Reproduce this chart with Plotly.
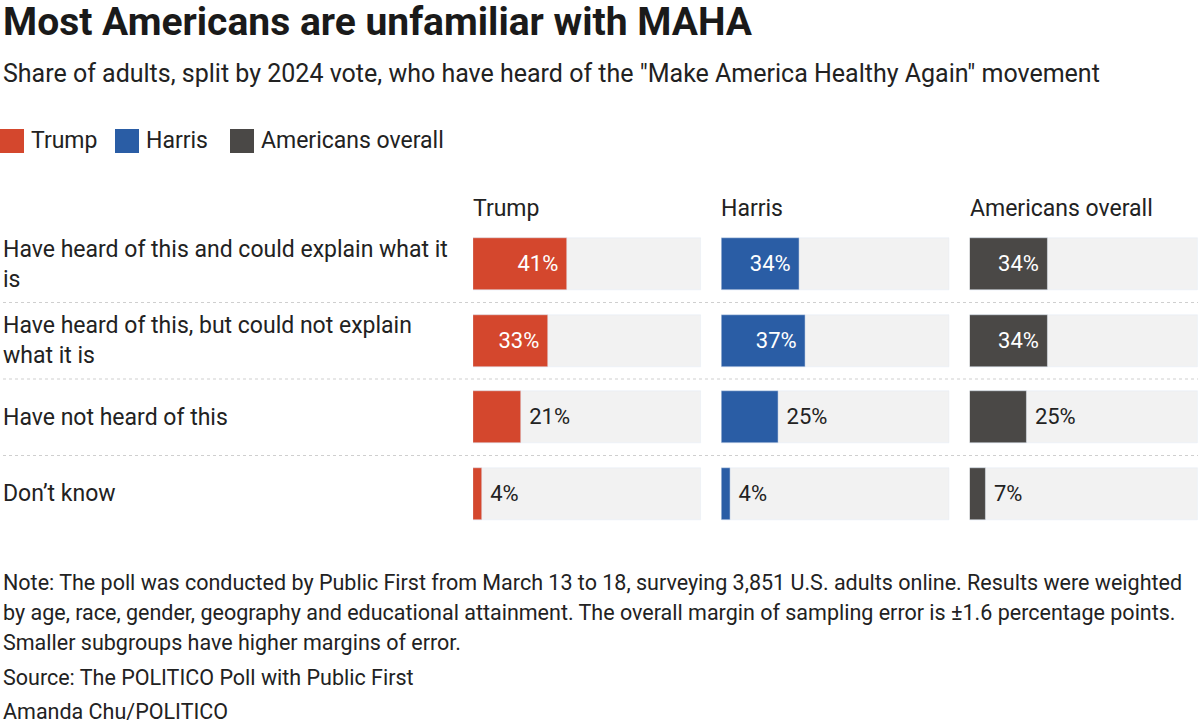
import plotly.graph_objects as go
from plotly.subplots import make_subplots

answers = [
    "Have heard of this and could explain what it<br>is",
    "Have heard of this, but could not explain<br>what it is",
    "Have not heard of this",
    "Don\u2019t know",
]
groups = ["Trump", "Harris", "Americans overall"]
trump = [41, 33, 21, 4]
harris = [34, 37, 25, 4]
overall = [34, 34, 25, 7]
full = [100, 100, 100, 100]

colors = {"Trump": "#D4472D", "Harris": "#2A5DA5", "Americans overall": "#4A4846"}
values = {"Trump": trump, "Harris": harris, "Americans overall": overall}

FONT = "Roboto"
TXT = "#222222"
NB = "\u00a0"

fig = make_subplots(rows=1, cols=3, shared_yaxes=True, horizontal_spacing=0.0276)

ycats = list(range(len(answers)))
for i, g in enumerate(groups, start=1):
    fig.add_trace(go.Bar(
        x=full, y=ycats, orientation="h", marker_color="#F2F2F2",
        width=0.68, hoverinfo="skip", showlegend=False,
    ), row=1, col=i)
    vals = values[g]
    inside = [v >= 30 for v in vals]
    fig.add_trace(go.Bar(
        x=vals, y=ycats, orientation="h", marker_color=colors[g],
        width=0.68, name=g, showlegend=False,
        text=[f"{v}%{NB}" if ins else f"{NB}{v}%" for v, ins in zip(vals, inside)],
        textposition=["inside" if ins else "outside" for ins in inside],
        insidetextanchor="end",
        insidetextfont=dict(color="white", size=22, family=FONT),
        outsidetextfont=dict(color=TXT, size=22, family=FONT),
        textangle=0, cliponaxis=False, constraintext="none",
    ), row=1, col=i)
    fig.update_xaxes(range=[0, 100], visible=False, row=1, col=i)
    fig.update_yaxes(range=[3.5, -0.5], visible=False, row=1, col=i)
    xr = "x domain" if i == 1 else f"x{i} domain"
    yr = "y domain" if i == 1 else f"y{i} domain"
    fig.add_annotation(xref=xr, yref=yr, x=0, y=1, xanchor="left", yanchor="bottom",
                       xshift=-2, yshift=2, text=g, showarrow=False,
                       font=dict(size=23, color=TXT, family=FONT))

# row labels and dotted separators
LEFT = -472 / 725
for k, a in enumerate(answers):
    fig.add_annotation(xref="paper", yref="y", x=LEFT, y=k, xanchor="left",
                       yanchor="middle", align="left", text=a, showarrow=False,
                       font=dict(size=23, color=TXT, family=FONT))
    if k < len(answers) - 1:
        fig.add_shape(type="line", xref="paper", yref="y", x0=-470 / 725, x1=1,
                      y0=k + 0.5, y1=k + 0.5,
                      line=dict(color="#CFCFCF", width=1.2, dash="dot"))


def yp(px):
    return (726 - px - 194) / 306


def xp(px):
    return (px - 473) / 725


# legend
leg_x = [3, 118, 233]
for g, lx in zip(groups, leg_x):
    fig.add_shape(type="rect", xref="paper", yref="paper",
                  x0=xp(lx - 3), x1=xp(lx + 21),
                  y0=yp(153), y1=yp(129),
                  fillcolor=colors[g], line_width=0)
    fig.add_annotation(xref="paper", yref="paper", x=xp(lx + 26),
                       y=yp(140), xanchor="left", yanchor="middle",
                       text=g, showarrow=False, font=dict(size=23, color=TXT, family=FONT))

fig.add_annotation(xref="paper", yref="paper", x=LEFT, y=yp(22), xanchor="left",
                   yanchor="middle", showarrow=False,
                   text="<b>Most Americans are unfamiliar with MAHA</b>",
                   font=dict(size=39, color="#1A1A1A", family=FONT))
fig.add_annotation(xref="paper", yref="paper", x=LEFT, y=yp(73), xanchor="left",
                   yanchor="middle", showarrow=False,
                   text='Share of adults, split by 2024 vote, who have heard of the "Make America Healthy Again" movement',
                   font=dict(size=25, color=TXT, family=FONT))

notes = [
    ("Note: The poll was conducted by Public First from March 13 to 18, surveying 3,851 U.S. adults online. Results were weighted", 582),
    ("by age, race, gender, geography and educational attainment. The overall margin of sampling error is \u00b11.6 percentage points.", 612),
    ("Smaller subgroups have higher margins of error.", 642),
    ("Source: The POLITICO Poll with Public First", 677),
    ("Amanda Chu/POLITICO", 711),
]
for t, py in notes:
    fig.add_annotation(xref="paper", yref="paper", x=LEFT, y=yp(py), xanchor="left",
                       yanchor="middle", showarrow=False, text=t,
                       font=dict(size=21.5, color=TXT, family=FONT))

fig.update_layout(
    width=1200, height=726,
    margin=dict(l=473, r=2, t=226, b=194),
    barmode="overlay", bargap=0,
    plot_bgcolor="white", paper_bgcolor="white",
    font=dict(family=FONT, color=TXT),
    showlegend=False,
)

fig.write_html("out.html", config={"displayModeBar": False},
               post_script="document.body.style.margin='0';document.body.style.overflow='hidden';")
